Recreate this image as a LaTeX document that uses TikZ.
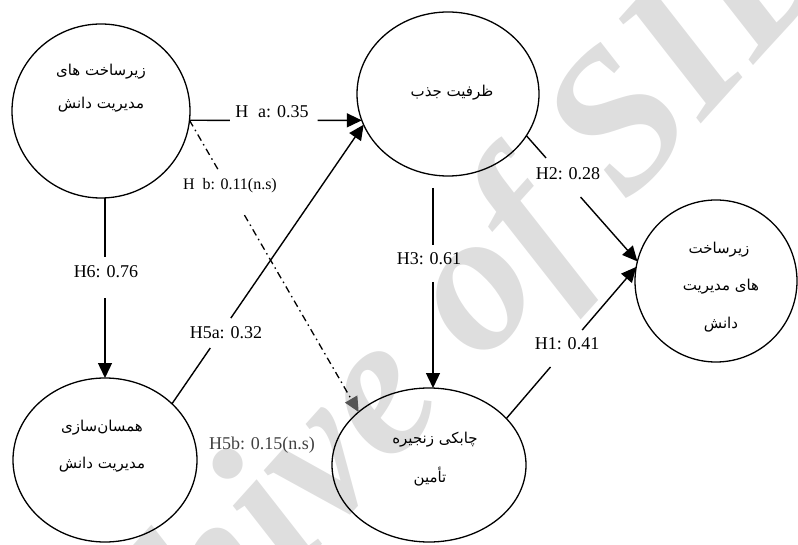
\documentclass[tikz,border=0pt]{standalone}
\usepackage{fontspec}
\setmainfont{Liberation Serif}
\newfontfamily\fa[Script=Arabic]{DejaVu Sans}
\newfontfamily\wmfont{Liberation Serif}
\TeXXeTstate=1
\usetikzlibrary{shapes.geometric,arrows.meta,calc}
\definecolor{wmgray}{RGB}{222,222,222}
\definecolor{tipgray}{RGB}{85,85,85}
\begin{document}
\begin{tikzpicture}[x=1pt,y=-1pt,
  blob/.style={draw, ellipse, line width=1.3pt, inner sep=0pt, outer sep=0pt},
  lbl/.style={font=\fontsize{18}{20}\selectfont, inner sep=0pt},
  fatxt/.style={font=\fa\fontsize{15}{17}\selectfont, inner sep=0pt},
  conn/.style={line width=1.4pt},
  dd/.style={line width=1.3pt, dash pattern=on 7pt off 4pt on 1.5pt off 4pt},
  tip/.style={-{Triangle[length=15pt,width=14pt]}},
  gtip/.style={-{Triangle[length=15pt,width=14pt,color=tipgray]}}]
\useasboundingbox (0,0) rectangle (798,545);
\begin{scope}
\clip (0,0) rectangle (798,545);
\node[anchor=base west, rotate=48, text=wmgray, inner sep=0pt,
  font=\wmfont\bfseries\itshape\fontsize{200}{200}\selectfont] (wm) at (18,882) {Archive of SID};
\end{scope}

% constructs
\node[blob, minimum width=178pt, minimum height=174pt] (n1) at (101,111) {};
\node[blob, minimum width=182pt, minimum height=164pt] (n2) at (448,94) {};
\node[blob, minimum width=162pt, minimum height=162pt] (n3) at (716,281) {};
\node[blob, minimum width=184pt, minimum height=164pt] (n4) at (105,460) {};
\node[blob, minimum width=194pt, minimum height=154pt] (n5) at (429,465) {};

% construct texts
\node[fatxt] (t1a) at (101,72) {\beginR زیرساخت های\endR};
\node[fatxt] (t1b) at (101,105) {\beginR مدیریت دانش\endR};
\node[fatxt] (t2) at (452,93) {\beginR ظرفیت جذب\endR};
\node[fatxt] (t3a) at (719,250) {\beginR زیرساخت\endR};
\node[fatxt] (t3b) at (721,287) {\beginR های مدیریت\endR};
\node[fatxt] (t3c) at (721,325) {\beginR دانش\endR};
\node[fatxt] (t4a) at (102,428) {\beginR همسان‌سازی\endR};
\node[fatxt] (t4b) at (102,465) {\beginR مدیریت دانش\endR};
\node[fatxt] (t5a) at (435,440) {\beginR چابکی زنجیره\endR};
\node[fatxt] (t5b) at (430,477) {\beginR تأمین\endR};

% free ends of H3
\coordinate (h3a) at ($(n2.south)+(-15,12)$);
\coordinate (h3b) at (h3a |- n5.north);

% connectors
% H a
\draw[conn] (n1.-6) -- ($(n1.-6)!0.234!(n2.197)$);
\draw[conn,tip] ($(n1.-6)!0.743!(n2.197)$) -- (n2.197);
% H b
\draw[dd] (n1.-6) -- ($(n1.-6)!0.171!(n5.143)$);
\draw[dd,gtip] ($(n1.-6)!0.325!(n5.143)$) -- (n5.143);
% H5a
\draw[conn] (n4.40) -- ($(n4.40)!0.2!(n2.200)$);
\draw[conn,tip] ($(n4.40)!0.307!(n2.200)$) -- (n2.200);
% H6
\draw[conn] (n1.south -| n4.north) -- ($(n1.south -| n4.north)!0.328!(n4.north)$);
\draw[conn,tip] ($(n1.south -| n4.north)!0.556!(n4.north)$) -- (n4.north);
% H3
\draw[conn] (h3a) -- ($(h3a)!0.285!(h3b)$);
\draw[conn,tip] ($(h3a)!0.47!(h3b)$) -- (h3b);
% H2
\draw[conn] (n2.-28) -- ($(n2.-28)!0.177!(n3.166)$);
\draw[conn,tip] ($(n2.-28)!0.488!(n3.166)$) -- (n3.166);
% H1
\draw[conn] (n5.31) -- ($(n5.31)!0.34!(n3.170)$);
\draw[conn,tip] ($(n5.31)!0.584!(n3.170)$) -- (n3.170);

% labels
\node[lbl] (la) at (272,112) {H\hspace{0.55em}a: 0.35};
\node[lbl, font=\fontsize{16}{18}\selectfont] (lb) at (230,186) {H\hspace{0.5em}b: 0.11(n.s)};
\node[lbl] (l6) at (106,272) {H6: 0.76};
\node[lbl] (l5a) at (226,333) {H5a: 0.32};
\node[lbl] (l3) at (429,259) {H3: 0.61};
\node[lbl] (l2) at (568,174) {H2: 0.28};
\node[lbl] (l1) at (567,344) {H1: 0.41};
\node[lbl, text=black!75] (l5b) at (262,445) {H5b: 0.15(n.s)};
\end{tikzpicture}
\end{document}
